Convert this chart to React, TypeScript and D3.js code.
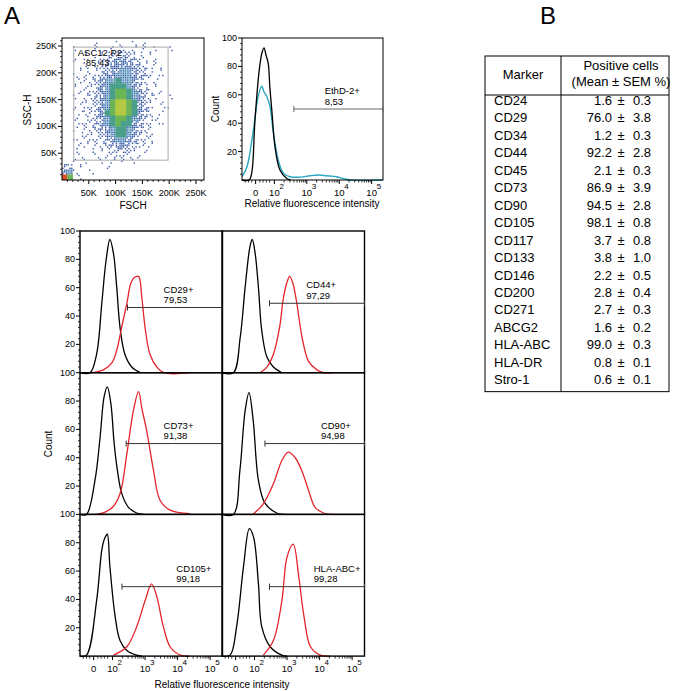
import React from "react";
import * as d3 from "d3";

const FONT = "'Liberation Sans', Arial, Helvetica, sans-serif";

// ---------- Scatter (FSC vs SSC) ----------
const scatterTicks = [50000, 100000, 150000, 200000, 250000];
const scatterTickLabels = ["50K", "100K", "150K", "200K", "250K"];
const scatterGate = [22000, 37000, 198000, 248000]; // x0, y0, x1, y1
const scatterGateLabel = ["ASC12 P2", "85,43"];
const binSize = 10000;
// density level per 10K x 10K bin; first row = 250K..260K, last row = 0..10K
const densityRows = [
  "......1...1..1.1",
  "..1...1..1.1.1.1.1..1",
  "....1..11222211.1",
  "..1.1.1122332211.1",
  "....1.1123333221.1",
  "...11.12233443221.1",
  "..1.1112334443221.1",
  "...1112344544321.1",
  "..1.112345554321.1",
  "...11123456654321.1",
  "..1.11234566543211..1",
  "...11123467765321.1",
  "..1.1123467765321..1",
  "...11123567765321.1",
  "..1.11234566543211",
  "...11123456553211.1",
  "..1.1122345543211",
  "...11112345543211",
  "..1.1111234432111",
  "...11.11223322111",
  "..1..1.1112221.1",
  "...1..1.11111.1",
  "..1.1..1.1.1.1",
  "22.1....1",
  "341..1",
  "86.1",
];

// ---------- EthD-2 histogram ----------
const ethdBlack: [number, number][] = [
  [1.0, 0], [1.22, 0], [1.3, 5], [1.4, 42], [1.53, 77], [1.62, 90], [1.68, 93], [1.74, 88],
  [1.81, 82], [1.86, 65], [1.92, 49], [2.02, 23], [2.17, 7], [2.38, 1], [2.5, 0],
];
const ethdCyan: [number, number][] = [
  [1.0, 2.3], [1.15, 9], [1.35, 35], [1.5, 59], [1.61, 66], [1.68, 62], [1.76, 59], [1.86, 52],
  [1.97, 33], [2.12, 14], [2.27, 5], [2.48, 2.3], [2.79, 2], [3.1, 3], [3.36, 3.5], [3.61, 3],
  [3.92, 2.3], [4.13, 1], [4.33, 0], [5.35, 0],
];
const ethdGate = { start: 2.6, count: 50 };
const ethdLabel = ["EthD-2+", "8,53"];
const ethdLabelAt = 3.55;

// ---------- Marker histograms (black = control, red = marker) ----------
const cd29Black: [number, number][] = [
  [1.0, 0], [1.31, 0], [1.51, 13], [1.67, 49], [1.8, 79], [1.92, 94], [2.03, 84], [2.13, 60],
  [2.23, 32], [2.38, 13], [2.59, 4], [2.85, 0],
];
const cd29Red: [number, number][] = [
  [1.36, 0], [1.72, 2], [1.98, 7], [2.13, 16], [2.28, 32], [2.44, 49], [2.56, 63], [2.66, 67],
  [2.8, 68], [2.9, 53], [3.0, 32], [3.15, 13], [3.36, 4], [3.57, 0], [4.4, 0],
];
const cd44Black: [number, number][] = [
  [1.0, 0], [1.35, 0], [1.56, 25], [1.71, 60], [1.86, 89], [1.93, 94], [2.02, 84], [2.12, 60],
  [2.22, 30], [2.38, 11], [2.58, 4], [2.84, 0],
];
const cd44Red: [number, number][] = [
  [2.17, 0], [2.38, 4], [2.58, 13], [2.77, 32], [2.89, 53], [3.0, 64], [3.08, 68], [3.18, 63],
  [3.3, 49], [3.46, 25], [3.66, 8], [3.92, 2], [4.13, 0], [4.43, 0],
];
const cd73Black: [number, number][] = [
  [1.0, 0], [1.2, 0], [1.46, 24], [1.62, 55], [1.74, 83], [1.84, 90], [1.95, 78], [2.05, 50],
  [2.15, 31], [2.28, 15], [2.49, 5], [2.74, 1], [2.95, 0],
];
const cd73Red: [number, number][] = [
  [1.5, 0], [1.77, 1.6], [2.0, 5], [2.23, 14.6], [2.44, 42.7], [2.64, 73], [2.8, 86.6], [2.9, 75],
  [3.05, 59], [3.26, 31], [3.46, 10], [3.77, 3], [4.38, 0.5],
];
const cd90Black: [number, number][] = [
  [1.0, 0], [1.35, 0], [1.55, 31], [1.71, 73], [1.83, 86], [1.96, 66], [2.12, 24], [2.32, 8],
  [2.68, 1], [2.9, 0],
];
const cd90Red: [number, number][] = [
  [1.95, 0], [2.27, 7.5], [2.58, 21.6], [2.84, 38], [3.04, 44], [3.25, 40], [3.45, 31],
  [3.66, 17], [3.86, 5], [4.12, 1], [4.42, 0],
];
const cd105Black: [number, number][] = [
  [1.0, 0], [1.2, 0.7], [1.51, 39], [1.67, 75], [1.74, 82], [1.8, 85], [1.84, 86], [1.92, 63],
  [2.08, 28], [2.23, 11], [2.44, 4], [2.74, 0.7], [2.9, 0],
];
const cd105Red: [number, number][] = [
  [2.03, 0.7], [2.44, 6.6], [2.74, 20.6], [3.0, 39], [3.2, 51], [3.36, 42], [3.56, 21],
  [3.77, 6.6], [4.08, 0.7], [4.38, 0],
];
const hlaBlack: [number, number][] = [
  [1.0, 0], [1.25, 0.7], [1.45, 21], [1.66, 63], [1.84, 90], [1.97, 84], [2.12, 51], [2.22, 21],
  [2.48, 6.6], [2.84, 0.7], [3.0, 0],
];
const hlaRed: [number, number][] = [
  [2.27, 0.7], [2.58, 11], [2.84, 39], [3.0, 70], [3.19, 79], [3.36, 56], [3.52, 28], [3.72, 6.6],
  [4.02, 0.7], [4.32, 0],
];

const panelNames = ["CD29+", "CD44+", "CD73+", "CD90+", "CD105+", "HLA-ABC+"];
const panelPercents = ["79,53", "97,29", "91,38", "94,98", "99,18", "99,28"];
const panelGateStart = [2.46, 2.46, 2.42, 2.32, 2.29, 2.46];
const panelGateCount = [46, 49, 50, 50, 49, 49];
const panelLabelAt = [3.57, 3.59, 3.57, 4.04, 3.96, 3.82];
const panelBlack = [cd29Black, cd44Black, cd73Black, cd90Black, cd105Black, hlaBlack];
const panelRed = [cd29Red, cd44Red, cd73Red, cd90Red, cd105Red, hlaRed];

const countTicks = [20, 40, 60, 80, 100];
const decadeTicks = [2, 3, 4, 5];
const zeroTick = 1.42;

// ---------- Table ----------
const markers = [
  "CD24", "CD29", "CD34", "CD44", "CD45", "CD73", "CD90", "CD105", "CD117", "CD133",
  "CD146", "CD200", "CD271", "ABCG2", "HLA-ABC", "HLA-DR", "Stro-1",
];
const means = [1.6, 76.0, 1.2, 92.2, 2.1, 86.9, 94.5, 98.1, 3.7, 3.8, 2.2, 2.8, 2.7, 1.6, 99.0, 0.8, 0.6];
const sems = [0.3, 3.8, 0.3, 2.8, 0.3, 3.9, 2.8, 0.8, 0.8, 1.0, 0.5, 0.4, 0.3, 0.2, 0.3, 0.1, 0.1];

const RED = "#e3242b";
const CYAN = "#2aa6c2";

const levelColor = ["", "#3a58a8", "#3453a4", "#2f57a2", "#3b7fae", "#4a9f8a", "#6cb454", "#b4c842", "#e0502a"];
const dotCount = [0, 2, 4, 7, 9];
const subOrder = [4, 0, 8, 2, 6, 1, 5, 3, 7];

const minorDecade: number[] = [];
for (let d = 2; d <= 4; d++) for (let k = 2; k <= 9; k++) minorDecade.push(d + Math.log10(k));
[1.1, 1.2, 1.3, 1.55, 1.65, 1.75, 1.85].forEach((v) => minorDecade.push(v));

function LogXAxis({ x, y0, fontSize }: { x: d3.ScaleLinear<number, number>; y0: number; fontSize: number }) {
  return (
    <g>
      {minorDecade.filter((v) => v <= x.domain()[1]).map((v, i) => (
        <line key={"m" + i} x1={x(v)} x2={x(v)} y1={y0} y2={y0 + 2.5} stroke="#000" strokeWidth={0.8} />
      ))}
      {[zeroTick, ...decadeTicks].map((v, i) => (
        <line key={"M" + i} x1={x(v)} x2={x(v)} y1={y0} y2={y0 + 4} stroke="#000" strokeWidth={1} />
      ))}
      <text x={x(zeroTick)} y={y0 + 16} textAnchor="middle" fontSize={fontSize} fill="#000">0</text>
      {decadeTicks.map((d) => (
        <g key={d}>
          <text x={x(d)} y={y0 + 16} textAnchor="middle" fontSize={fontSize} fill="#000">10</text>
          <text x={x(d) + 5} y={y0 + 9} fontSize={fontSize - 1.5} fill="#000">{d}</text>
        </g>
      ))}
    </g>
  );
}

function CountYAxis({ y, x0, fontSize }: { y: d3.ScaleLinear<number, number>; x0: number; fontSize: number }) {
  const minors = d3.range(4, 100, 4).filter((v) => v % 20 !== 0);
  return (
    <g>
      {minors.map((v) => (
        <line key={"m" + v} x1={x0 - 2} x2={x0} y1={y(v)} y2={y(v)} stroke="#000" strokeWidth={0.8} />
      ))}
      {countTicks.map((v) => (
        <g key={v}>
          <line x1={x0 - 4} x2={x0} y1={y(v)} y2={y(v)} stroke="#000" strokeWidth={1} />
          <text x={x0 - 5} y={y(v) + 3} textAnchor="end" fontSize={fontSize}>{v}</text>
        </g>
      ))}
    </g>
  );
}

function Gate({ x, y, start, count, lines, labelAt, color }: any) {
  const gx0 = x(start);
  const gx1 = x.range()[1];
  const gy = y(count);
  return (
    <g>
      <line x1={gx0} x2={gx1} y1={gy} y2={gy} stroke={color} strokeWidth={1} />
      <line x1={gx0} x2={gx0} y1={gy - 3} y2={gy + 3} stroke={color} strokeWidth={1} />
      <line x1={gx1} x2={gx1} y1={gy - 3} y2={gy + 3} stroke={color} strokeWidth={1} />
      <text x={x(labelAt)} y={gy - 15} fontSize={9.5}>{lines[0]}</text>
      <text x={x(labelAt)} y={gy - 4.5} fontSize={9.5}>{lines[1]}</text>
    </g>
  );
}

export default function App() {
  // Scatter scales
  const sx = d3.scaleLinear().domain([0, 265000]).range([62, 204]);
  const sy = d3.scaleLinear().domain([0, 265000]).range([180, 38]);
  const cellW = sx(binSize) - sx(0);

  const dots: JSX.Element[] = [];
  densityRows.forEach((row, r) => {
    const yBin = (densityRows.length - 1 - r) * binSize;
    row.split("").forEach((ch, c) => {
      const L = ch === "." ? 0 : parseInt(ch, 10);
      if (!L) return;
      const xBin = c * binSize;
      if (L >= 5) {
        dots.push(
          <rect key={`c${r}-${c}`} x={sx(xBin) - 0.2} y={sy(yBin + binSize) - 0.2} width={cellW + 0.4} height={cellW + 0.4} fill={levelColor[L]} />
        );
      } else {
        const n = dotCount[L];
        const shift = (r * 7 + c * 3) % 9;
        for (let k = 0; k < n; k++) {
          const p = subOrder[(k + shift) % 9];
          const px = xBin + ((p % 3) + 0.5) * (binSize / 3);
          const py = yBin + (Math.floor(p / 3) + 0.5) * (binSize / 3);
          const col = L === 4 && k % 3 === 0 ? "#2f5ea6" : levelColor[L];
          dots.push(
            <rect key={`d${r}-${c}-${k}`} x={sx(px) - 0.7} y={sy(py) - 0.7} width={1.4} height={1.4} fill={col} />
          );
        }
      }
    });
  });

  const scatterMinor = d3.range(10000, 265000, 10000).filter((v) => v % 50000 !== 0);

  // EthD histogram scales
  const hx = d3.scaleLinear().domain([1.0, 5.35]).range([242, 383]);
  const hy = d3.scaleLinear().domain([0, 100]).range([180, 38]);
  const hline = d3.line<[number, number]>().x((d) => hx(d[0])).y((d) => hy(d[1])).curve(d3.curveCatmullRom);

  // grid
  const colLeft = [80, 222];
  const panelW = 142.5;
  const panelH = 141.7;
  const rowTop = [231, 231 + panelH, 231 + 2 * panelH];

  // table
  const tX0 = 485, tX1 = 669, tY0 = 56, tHead = 95, rowH = 17.45, colDiv = 561;
  const tY1 = tHead + markers.length * rowH;

  return (
    <svg width={686} height={691} style={{ position: "absolute", left: 0, top: 0, background: "#fff" }} fontFamily={FONT}>
      <rect x={0} y={0} width={686} height={691} fill="#fff" />
      <text x={4} y={24} fontSize={24}>A</text>
      <text x={540} y={24} fontSize={24}>B</text>

      {/* Scatter */}
      <g>
        <clipPath id="sclip"><rect x={62} y={38} width={142} height={142} /></clipPath>
        <g clipPath="url(#sclip)">{dots}</g>
        <rect x={sx(scatterGate[0])} y={sy(scatterGate[3])} width={sx(scatterGate[2]) - sx(scatterGate[0])} height={sy(scatterGate[1]) - sy(scatterGate[3])} fill="none" stroke="#aaa" strokeWidth={1} />
        <rect x={62} y={38} width={142} height={142} fill="none" stroke="#000" strokeWidth={1} />
        {scatterMinor.map((v) => (
          <g key={v}>
            <line x1={60} x2={62} y1={sy(v)} y2={sy(v)} stroke="#000" strokeWidth={0.8} />
            <line x1={sx(v)} x2={sx(v)} y1={180} y2={182} stroke="#000" strokeWidth={0.8} />
          </g>
        ))}
        {scatterTicks.map((v, i) => (
          <g key={v}>
            <line x1={58} x2={62} y1={sy(v)} y2={sy(v)} stroke="#000" />
            <text x={57} y={sy(v) + 3} textAnchor="end" fontSize={9}>{scatterTickLabels[i]}</text>
            <line x1={sx(v)} x2={sx(v)} y1={180} y2={184} stroke="#000" />
            <text x={sx(v)} y={196} textAnchor="middle" fontSize={9}>{scatterTickLabels[i]}</text>
          </g>
        ))}
        <text x={sx(scatterGate[0]) + 4} y={56} fontSize={9.5}>{scatterGateLabel[0]}</text>
        <text x={sx(scatterGate[0]) + 12} y={65.5} fontSize={9.5}>{scatterGateLabel[1]}</text>
        <text transform="translate(31,110) rotate(-90)" textAnchor="middle" fontSize={10}>SSC-H</text>
        <text x={133} y={209} textAnchor="middle" fontSize={10}>FSCH</text>
      </g>

      {/* EthD-2 histogram */}
      <g>
        <path d={hline(ethdCyan) || ""} fill="none" stroke={CYAN} strokeWidth={1.4} />
        <path d={hline(ethdBlack) || ""} fill="none" stroke="#000" strokeWidth={1.3} />
        <rect x={242} y={38} width={141} height={142} fill="none" stroke="#000" strokeWidth={1} />
        <CountYAxis y={hy} x0={242} fontSize={9} />
        <LogXAxis x={hx} y0={180} fontSize={9.5} />
        <Gate x={hx} y={hy} start={ethdGate.start} count={ethdGate.count} lines={ethdLabel} labelAt={ethdLabelAt} color="#666" />
        <text transform="translate(219,109) rotate(-90)" textAnchor="middle" fontSize={10}>Count</text>
        <text x={312} y={207} textAnchor="middle" fontSize={10}>Relative fluorescence intensity</text>
      </g>

      {/* Marker grid */}
      {panelNames.map((name, i) => {
        const col = i % 2;
        const row = Math.floor(i / 2);
        const left = colLeft[col];
        const top = rowTop[row];
        const x = d3.scaleLinear().domain([1.0, 5.38]).range([left, left + panelW]);
        const y = d3.scaleLinear().domain([0, 100]).range([top + panelH, top]);
        const line = d3.line<[number, number]>().x((d) => x(d[0])).y((d) => y(d[1])).curve(d3.curveCatmullRom);
        return (
          <g key={name}>
            <path d={line(panelBlack[i]) || ""} fill="none" stroke="#000" strokeWidth={1.3} />
            <path d={line(panelRed[i]) || ""} fill="none" stroke={RED} strokeWidth={1.3} />
            <rect x={left} y={top} width={panelW} height={panelH} fill="none" stroke="#000" strokeWidth={1.4} />
            <Gate x={x} y={y} start={panelGateStart[i]} count={panelGateCount[i]} lines={[name, panelPercents[i]]} labelAt={panelLabelAt[i]} color="#333" />
            {col === 0 && <CountYAxis y={y} x0={left} fontSize={9} />}
            {row === 2 && <LogXAxis x={x} y0={top + panelH} fontSize={9.5} />}
          </g>
        );
      })}
      <text transform="translate(52,444) rotate(-90)" textAnchor="middle" fontSize={10}>Count</text>
      <text x={222} y={688} textAnchor="middle" fontSize={10}>Relative fluorescence intensity</text>

      {/* Table */}
      <g fontSize={13}>
        <rect x={tX0} y={tY0} width={tX1 - tX0} height={tY1 - tY0} fill="none" stroke="#000" strokeWidth={1} />
        <line x1={tX0} x2={tX1} y1={tHead} y2={tHead} stroke="#000" strokeWidth={1} />
        <line x1={colDiv} x2={colDiv} y1={tY0} y2={tY1} stroke="#000" strokeWidth={1} />
        <text x={(tX0 + colDiv) / 2} y={79} textAnchor="middle">Marker</text>
        <text x={621} y={70} textAnchor="middle">Positive cells</text>
        <text x={621} y={86} textAnchor="middle">(Mean ± SEM %)</text>
        {markers.map((m, i) => {
          const by = tHead + 10 + i * rowH;
          return (
            <g key={m}>
              <text x={494} y={by}>{m}</text>
              <text x={612} y={by} textAnchor="end">{means[i].toFixed(1)}</text>
              <text x={621} y={by} textAnchor="middle">±</text>
              <text x={633} y={by}>{sems[i].toFixed(1)}</text>
            </g>
          );
        })}
      </g>
    </svg>
  );
}
